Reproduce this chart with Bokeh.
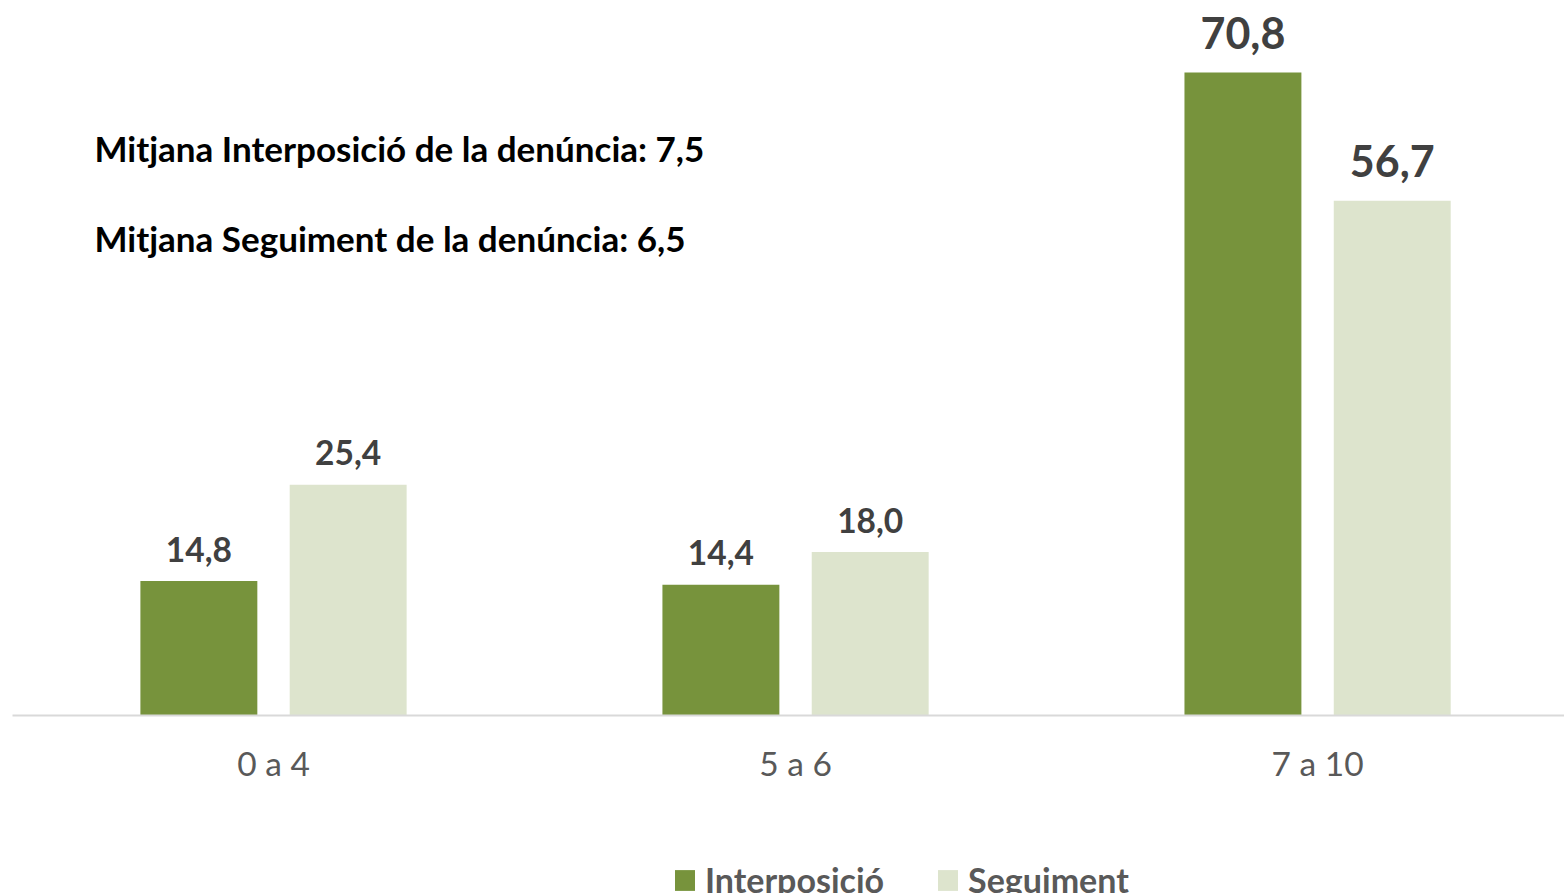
from bokeh.plotting import figure
from bokeh.layouts import column
from bokeh.models import Range1d, FixedTicker, ColumnDataSource, Label, Legend, LegendItem
from bokeh.core.properties import value
from bokeh.embed import file_html
from bokeh.resources import INLINE

categories = ["0 a 4", "5 a 6", "7 a 10"]
interposicio = [14.8, 14.4, 70.8]
seguiment = [25.4, 18.0, 56.7]
series_names = ["Interposició", "Seguiment"]
notes = ["Mitjana Interposició de la denúncia: 7,5",
         "Mitjana Seguiment de la denúncia: 6,5"]

GREEN = "#77933C"
LIGHT = "#DDE4CD"
FONT = "Lato"
OFFSET = 0.143
BAR_W = 0.224
colors = [GREEN, LIGHT]

def fmt(v):
    return f"{v:.1f}".replace(".", ",")

centers = [i + 0.5 for i in range(len(categories))]

p = figure(frame_width=1552, frame_height=715,
           x_range=Range1d(0, 2.973), y_range=Range1d(0, 78.74),
           output_backend="svg", toolbar_location=None,
           min_border_left=12, min_border_right=0, min_border_top=0,
           min_border_bottom=100)
p.outline_line_color = None
p.xgrid.visible = False
p.ygrid.visible = False
p.yaxis.visible = False

for k, (vals, color) in enumerate(zip([interposicio, seguiment], colors)):
    xs = [c + (OFFSET if k else -OFFSET) for c in centers]
    src = ColumnDataSource(dict(x=xs, top=vals, cat=categories))
    p.vbar(x="x", top="top", width=BAR_W, bottom=0, source=src,
           fill_color=color, line_color=None)
    for big in (False, True):
        idx = [i for i, c in enumerate(categories) if (c == "7 a 10") == big]
        s2 = ColumnDataSource(dict(x=[xs[i] for i in idx], y=[vals[i] for i in idx],
                                   t=[fmt(vals[i]) for i in idx]))
        p.text(x="x", y="y", text="t", source=s2, text_align="center",
               text_baseline="alphabetic", y_offset=-40 if big else -32,
               text_font=value(FONT), text_font_style="bold",
               text_font_size="43px" if big else "33.5px", text_color="#404040")

xa = p.xaxis[0]
xa.ticker = FixedTicker(ticks=centers)
xa.major_label_overrides = {c: lab for c, lab in zip(centers, categories)}
xa.major_tick_line_color = None
xa.minor_tick_line_color = None
xa.axis_line_color = "#D9D9D9"
xa.axis_line_width = 2
xa.major_label_text_font = FONT
xa.major_label_text_font_size = "33.5px"
xa.major_label_text_color = "#595959"
xa.major_label_standoff = 21

for note, yv in zip(notes, [62.5, 52.6]):
    p.add_layout(Label(x=0.157, y=yv, text=note, text_font=FONT,
                       text_font_style="bold", text_font_size="35px",
                       text_color="#000000", text_baseline="alphabetic"))

# legend strip below the chart (zero-size proxy bars carry the legend swatches)
lg = figure(frame_width=1564, frame_height=78, x_range=Range1d(0, 1), y_range=Range1d(0, 1),
            x_axis_type=None, y_axis_type=None, output_backend="svg",
            toolbar_location=None, min_border=0)
lg.outline_line_color = None
items = []
for name, color in zip(series_names, colors):
    r = lg.vbar(x=[0], top=[0], bottom=0, width=0, fill_color=color, line_color=None)
    items.append(LegendItem(label=name, renderers=[r]))
legend = Legend(items=items, orientation="horizontal", location=(672, -7),
                label_text_font=FONT, label_text_font_style="bold",
                label_text_font_size="34px", label_text_color="#595959",
                glyph_width=25, glyph_height=26, label_standoff=8, spacing=51,
                border_line_color=None, background_fill_alpha=0,
                padding=0, margin=0)
lg.add_layout(legend, "center")

layout = column(p, lg, spacing=0)
open("out.html", "w").write(file_html(layout, INLINE))
